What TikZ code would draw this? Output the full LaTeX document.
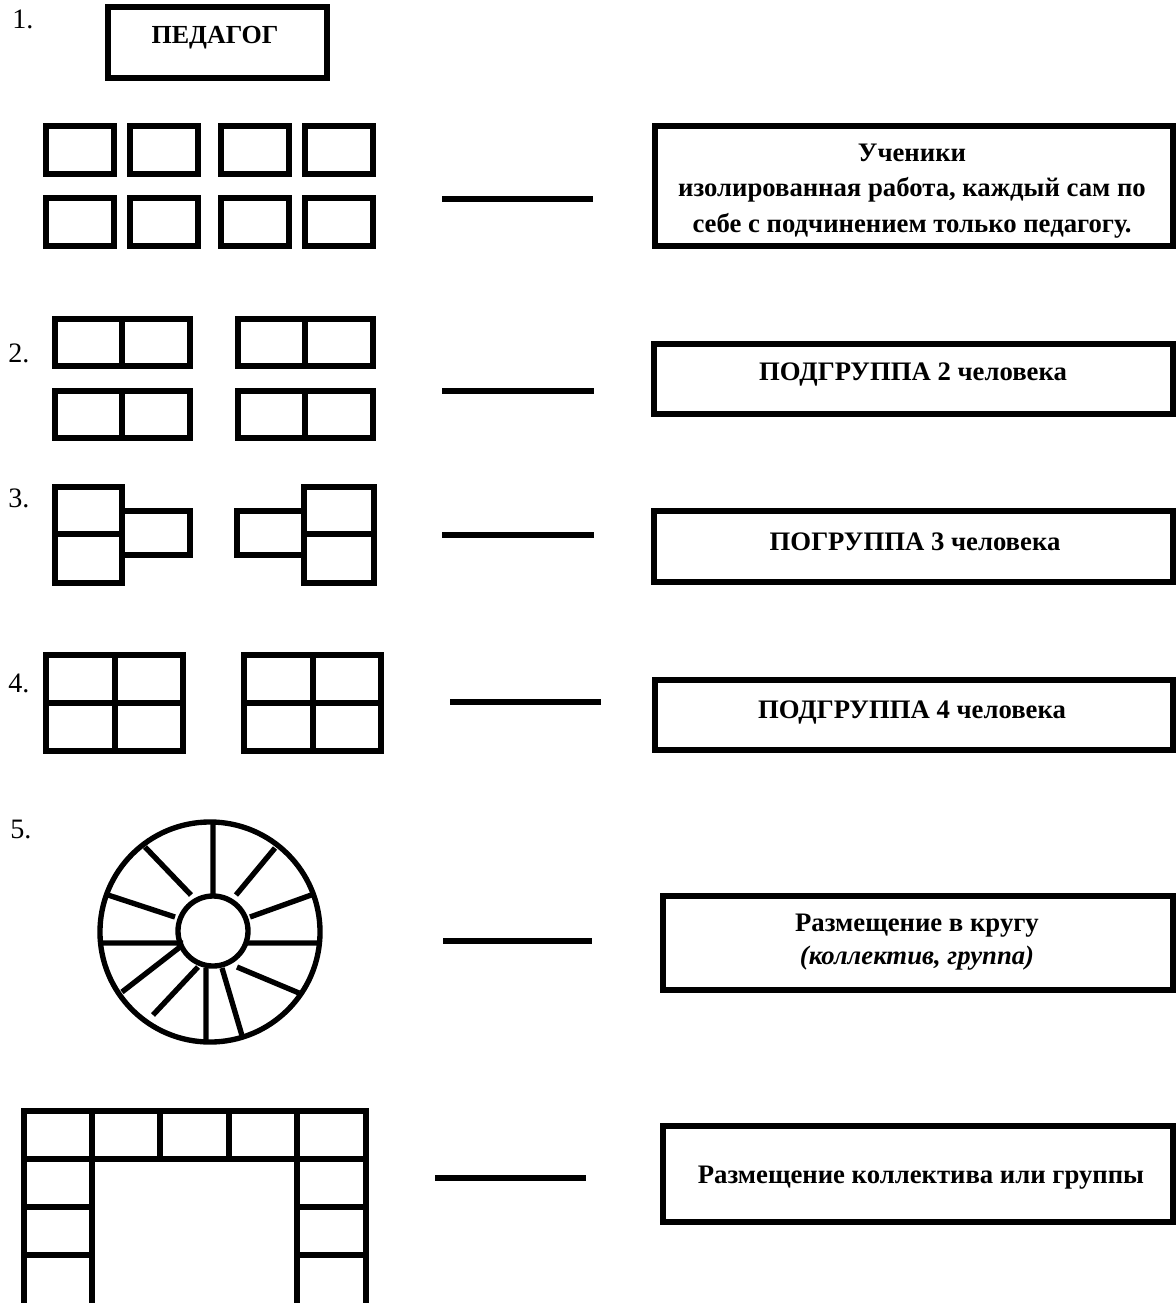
\documentclass[tikz,border=0pt]{standalone}
\usepackage{fontspec}
\setmainfont{Liberation Serif}
\usetikzlibrary{positioning}
\tikzset{
  desk/.style={draw=black, line width=4.2pt},
  spoke/.style={draw=black, line width=3.8pt},
  link/.style={draw=black, line width=4pt},
  txtbox/.style={
    rectangle, draw=black, line width=4.6pt, inner sep=0pt
  },
  boxtext/.style={
    font=\bfseries\fontsize{19}{25}\selectfont, align=center, inner sep=0pt
  },
  num/.style={font=\fontsize{20}{24}\selectfont, anchor=base west, inner sep=0pt}
}

\begin{document}
\begin{tikzpicture}[x=0.025cm, y=-0.025cm]
  \clip (0,0) rectangle (1176,1303);

  % 1. teacher and single desks
  \node[num] (n1) at (12,28) {1.};
  \node[txtbox, minimum width=5.475cm, minimum height=1.775cm] (teacher) at (217.5,42.5) {};
  \node[boxtext, font=\bfseries\fontsize{18.5}{21}\selectfont, anchor=base] (teachertxt) at (215,43) {ПЕДАГОГ};
  \foreach \x in {46,130,221,305}
    \foreach \y in {126,198}
      \draw[desk] (\x,\y) rectangle +(68,48);
  \draw[link] (442,199) -- (593,199);
  \node[txtbox, minimum width=12.95cm, minimum height=3cm] (pupils) at (914,186) {};
  \node[boxtext] (pupilstxt) at (912,191)
    {Ученики\\изолированная работа, каждый сам по\\себе с подчинением только педагогу.};

  % 2. pairs
  \node[num] (n2) at (8,362) {2.};
  \foreach \x in {55,238}
    \foreach \y in {319,391}
      \draw[desk] (\x,\y) rectangle +(67,47) (\x+67,\y) rectangle +(68,47);
  \draw[link] (442,391) -- (594,391);
  \node[txtbox, minimum width=12.975cm, minimum height=1.75cm] (sub2) at (913.5,379) {};
  \node[boxtext, anchor=base] (sub2txt) at (913,380) {ПОДГРУППА 2 человека};

  % 3. threes
  \node[num] (n3) at (8,507) {3.};
  \draw[desk] (55,487) rectangle (122,534) (55,534) rectangle (122,583)
              (122,511) rectangle (190,555);
  \draw[desk] (237,511) rectangle (304,555)
              (304,487) rectangle (374,534) (304,534) rectangle (374,583);
  \draw[link] (442,535) -- (594,535);
  \node[txtbox, minimum width=12.975cm, minimum height=1.775cm] (sub3) at (913.5,546.5) {};
  \node[boxtext, anchor=base] (sub3txt) at (915,550) {ПОГРУППА 3 человека};

  % 4. fours
  \node[num] (n4) at (8,692) {4.};
  \foreach \x in {46,244}
    \draw[desk] (\x,655) rectangle +(137,96)
                (\x+69,655) -- (\x+69,751)
                (\x,703) -- (\x+137,703);
  \draw[link] (450,702) -- (601,702);
  \node[txtbox, minimum width=12.95cm, minimum height=1.75cm] (sub4) at (914,715) {};
  \node[boxtext, anchor=base] (sub4txt) at (912,718) {ПОДГРУППА 4 человека};

  % 5. circle
  \node[num] (n5) at (10,838) {5.};
  \draw[spoke] (210,932) circle[radius=2.75cm];
  \draw[spoke] (213,931) circle[radius=0.875cm];
  \draw[spoke] (213,823) -- (213,896)
               (275,848) -- (236,895)
               (314,894) -- (250,917)
               (320,943) -- (247,943)
               (299,993) -- (237,967)
               (243,1039) -- (222,968)
               (206,1042) -- (206,968)
               (153,1015) -- (198,967)
               (122,992) -- (180,947)
               (101,943) -- (183,943)
               (108,895) -- (175,917)
               (145,847) -- (191,895);
  \draw[link] (443,941) -- (592,941);
  \node[txtbox, minimum width=12.75cm, minimum height=2.35cm] (ring) at (918,943) {};
  \node[boxtext, font=\bfseries\fontsize{19}{23}\selectfont] (ringtxt) at (917,942)
    {Размещение в кругу\\\textit{(коллектив, группа)}};

  % 6. U shape
  \foreach \x/\xx in {24/92, 92/160, 160/229, 229/297, 297/366}
    \draw[desk] (\x,1111) rectangle (\xx,1159);
  \foreach \y/\yy in {1159/1207, 1207/1255, 1255/1315} {
    \draw[desk] (24,\y) rectangle (92,\yy);
    \draw[desk] (297,\y) rectangle (366,\yy);
  }
  \draw[link] (435,1178) -- (586,1178);
  \node[txtbox, minimum width=12.75cm, minimum height=2.4cm] (horse) at (918,1174) {};
  \node[boxtext, anchor=base] (horsetxt) at (921,1183) {Размещение коллектива или группы};
\end{tikzpicture}
\end{document}
